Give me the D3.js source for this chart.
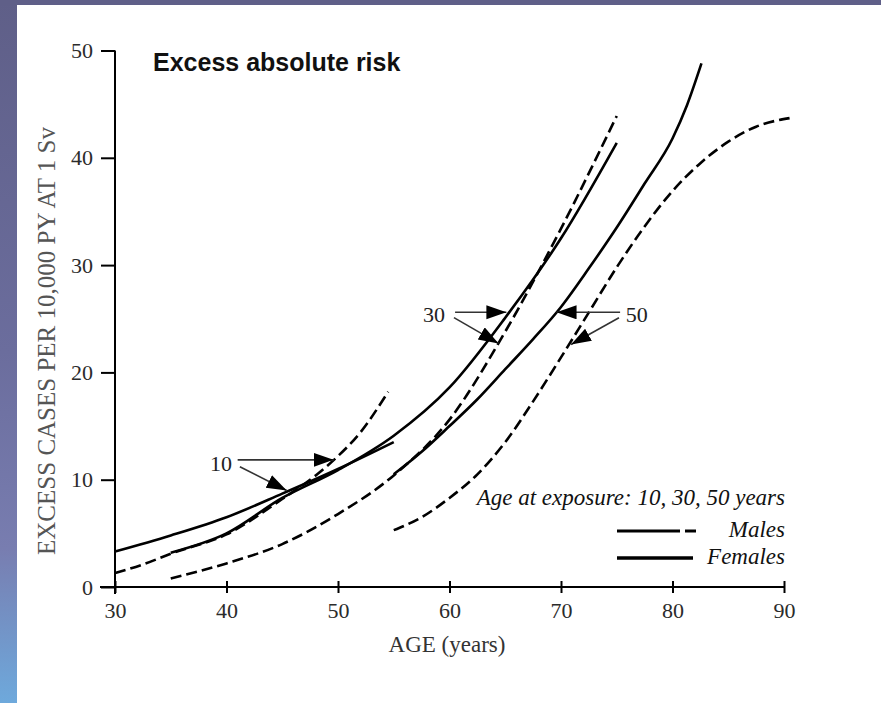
<!DOCTYPE html>
<html>
<head>
<meta charset="utf-8">
<script src="https://cdn.jsdelivr.net/npm/d3@7"></script>
<style>
  body { margin: 0; background: #fff; }
  svg { display: block; }
</style>
</head>
<body>
<svg id="chart"></svg>
<script>
// values (age in years, excess cases per 10,000 PY at 1 Sv)
const xTicks = [30, 40, 50, 60, 70, 80, 90];
const yTicks = [0, 10, 20, 30, 40, 50];

const agesM10 = [30, 32.5, 35, 40, 45, 48, 50, 52, 54.5];
const riskM10 = [1.3, 2.1, 3.1, 4.9, 8.2, 10.4, 12.2, 14.4, 18.2];

const agesF10 = [30, 35, 40, 45, 50, 55];
const riskF10 = [3.3, 4.8, 6.5, 8.7, 11.0, 13.5];

const agesM30 = [35, 40, 45, 50, 55, 60, 65, 70, 75];
const riskM30 = [0.8, 2.2, 4.0, 6.8, 10.4, 15.6, 23.8, 33.4, 43.9];

const agesF30 = [35, 40, 45, 50, 55, 60, 65, 70, 75];
const riskF30 = [3.2, 5.0, 8.3, 10.9, 14.1, 18.6, 25.1, 32.5, 41.4];

const agesM50 = [55, 57.5, 60, 62.5, 65, 67.5, 70, 72.5, 75, 77.5, 80, 82.5, 85, 87.5, 90.5];
const riskM50 = [5.3, 6.5, 8.3, 10.5, 13.5, 17.3, 21.4, 25.6, 29.8, 33.6, 36.9, 39.5, 41.5, 42.9, 43.7];

const agesF50 = [55, 57.5, 60, 62.5, 65, 67.5, 70, 72.5, 75, 77.5, 80, 81.3, 82.6];
const riskF50 = [10.5, 12.6, 15.0, 17.5, 20.3, 23.1, 26.1, 29.7, 33.5, 37.6, 41.8, 44.9, 48.8];

// exposure-age labels and their arrows: [age0, risk0, age1, risk1]
const noteLabels = ['10', '30', '50'];
const notePos = [[39.5, 11.6], [58.6, 25.4], [76.8, 25.4]];
const noteArrows = [
  [41.0, 11.85, 49.6, 11.85], [41.2, 11.2, 45.4, 9.0],
  [60.5, 25.6, 65.1, 25.6], [60.4, 25.1, 64.4, 22.7],
  [75.3, 25.6, 69.6, 25.6], [75.2, 25.1, 70.9, 22.6]
];

class RiskChart {

  constructor(_config) {
    this.config = {
      parentElement: _config.parentElement,
      containerWidth: _config.containerWidth || 881,
      containerHeight: _config.containerHeight || 703
    };
    this.series = [
      { ages: agesM10, risk: riskM10, dashed: true },
      { ages: agesF10, risk: riskF10, dashed: false },
      { ages: agesM30, risk: riskM30, dashed: true },
      { ages: agesF30, risk: riskF30, dashed: false },
      { ages: agesM50, risk: riskM50, dashed: true },
      { ages: agesF50, risk: riskF50, dashed: false }
    ];
    this.initVis();
  }

  initVis() {
    let vis = this;

    vis.svg = d3.select(vis.config.parentElement)
      .attr('width', vis.config.containerWidth)
      .attr('height', vis.config.containerHeight);

    // slide background strips
    const grad = vis.svg.append('defs').append('linearGradient')
      .attr('id', 'side').attr('x1', 0).attr('y1', 0).attr('x2', 0).attr('y2', 1);
    grad.append('stop').attr('offset', 0).attr('stop-color', '#5f5f88');
    grad.append('stop').attr('offset', 0.5).attr('stop-color', '#6b6d9d');
    grad.append('stop').attr('offset', 0.78).attr('stop-color', '#787db0');
    grad.append('stop').attr('offset', 1).attr('stop-color', '#6ea9dc');

    vis.svg.append('rect').attr('width', 17).attr('height', vis.config.containerHeight).attr('fill', 'url(#side)');
    vis.svg.append('rect').attr('width', vis.config.containerWidth).attr('height', 5).attr('fill', '#5f5f88');

    const marker = vis.svg.select('defs').append('marker')
      .attr('id', 'head')
      .attr('markerUnits', 'userSpaceOnUse')
      .attr('markerWidth', 24).attr('markerHeight', 16)
      .attr('refX', 20).attr('refY', 7)
      .attr('orient', 'auto');
    marker.append('path').attr('d', 'M0,0 L20,7 L0,14 Z').attr('fill', '#000');

    vis.xScale = d3.scaleLinear().domain([30, 90]).range([115, 784]);
    vis.yScale = d3.scaleLinear().domain([0, 50]).range([587, 50.5]);

    vis.line = d3.line()
      .x(d => vis.xScale(d[0]))
      .y(d => vis.yScale(d[1]))
      .curve(d3.curveMonotoneX);

    this.renderVis();
  }

  renderVis() {
    let vis = this;
    const serif = '"Liberation Serif", "Times New Roman", serif';

    // x axis
    const xAxis = d3.axisBottom(vis.xScale).tickValues(xTicks).tickSize(6).tickPadding(9);
    const xg = vis.svg.append('g')
      .attr('transform', `translate(0,${vis.yScale(0)})`)
      .call(xAxis);
    xg.select('.domain').remove();
    xg.selectAll('.tick line').attr('y1', -6).attr('stroke', '#000').attr('stroke-width', 2);
    xg.selectAll('.tick text')
      .style('font-family', serif).style('font-size', '22px').attr('fill', '#2b2b2b');
    xg.append('line')
      .attr('x1', 100).attr('x2', vis.xScale(90))
      .attr('stroke', '#000').attr('stroke-width', 2);

    // y axis
    const yAxis = d3.axisLeft(vis.yScale).tickValues(yTicks).tickSize(14).tickPadding(8);
    const yg = vis.svg.append('g')
      .attr('transform', `translate(${vis.xScale(30)},0)`)
      .call(yAxis);
    yg.select('.domain').remove();
    yg.selectAll('.tick line').attr('stroke', '#000').attr('stroke-width', 2);
    yg.selectAll('.tick text')
      .style('font-family', serif).style('font-size', '22px').attr('fill', '#2b2b2b');
    yg.append('line')
      .attr('y1', vis.yScale(50)).attr('y2', vis.yScale(0) + 7)
      .attr('stroke', '#000').attr('stroke-width', 2);

    vis.svg.append('text')
      .attr('x', 447).attr('y', 652)
      .attr('text-anchor', 'middle')
      .style('font-family', serif).style('font-size', '23px').attr('fill', '#333')
      .text('AGE (years)');

    vis.svg.append('text')
      .attr('transform', 'translate(55,341) rotate(-90)')
      .attr('text-anchor', 'middle')
      .style('font-family', serif).style('font-size', '25px').attr('fill', '#555')
      .text('EXCESS CASES PER 10,000 PY AT 1 Sv');

    vis.svg.append('text')
      .attr('x', 153).attr('y', 71)
      .style('font-family', '"Liberation Sans", Arial, sans-serif')
      .style('font-size', '25px').style('font-weight', 'bold').attr('fill', '#111')
      .text('Excess absolute risk');

    // curves
    vis.svg.append('g').selectAll('path')
      .data(vis.series)
      .join('path')
      .attr('d', s => vis.line(s.ages.map((a, i) => [a, s.risk[i]])))
      .attr('fill', 'none')
      .attr('stroke', '#000')
      .attr('stroke-width', 2.6)
      .attr('stroke-dasharray', s => s.dashed ? '11,5' : null);

    // exposure-age notes
    vis.svg.append('g').selectAll('line')
      .data(noteArrows)
      .join('line')
      .attr('x1', d => vis.xScale(d[0])).attr('y1', d => vis.yScale(d[1]))
      .attr('x2', d => vis.xScale(d[2])).attr('y2', d => vis.yScale(d[3]))
      .attr('stroke', '#333').attr('stroke-width', 1.6)
      .attr('marker-end', 'url(#head)');

    vis.svg.append('g').selectAll('text')
      .data(noteLabels)
      .join('text')
      .attr('x', (d, i) => vis.xScale(notePos[i][0]))
      .attr('y', (d, i) => vis.yScale(notePos[i][1]) + 8)
      .attr('text-anchor', 'middle')
      .style('font-family', serif).style('font-size', '22px').attr('fill', '#222')
      .text(d => d);

    // legend
    const lg = vis.svg.append('g')
      .style('font-family', serif).style('font-style', 'italic').style('font-size', '23px')
      .attr('fill', '#111');
    lg.append('text').attr('x', 785).attr('y', 505).attr('text-anchor', 'end')
      .text('Age at exposure: 10, 30, 50 years');
    lg.append('text').attr('x', 785).attr('y', 537).attr('text-anchor', 'end').text('Males');
    lg.append('text').attr('x', 785).attr('y', 564).attr('text-anchor', 'end').text('Females');
    lg.append('line').attr('x1', 617).attr('x2', 680).attr('y1', 531).attr('y2', 531)
      .attr('stroke', '#000').attr('stroke-width', 3);
    lg.append('line').attr('x1', 685).attr('x2', 696).attr('y1', 531).attr('y2', 531)
      .attr('stroke', '#000').attr('stroke-width', 3);
    lg.append('line').attr('x1', 617).attr('x2', 693).attr('y1', 558).attr('y2', 558)
      .attr('stroke', '#000').attr('stroke-width', 3.6);
  }
}

const chart = new RiskChart({ parentElement: '#chart' });
</script>
</body>
</html>
